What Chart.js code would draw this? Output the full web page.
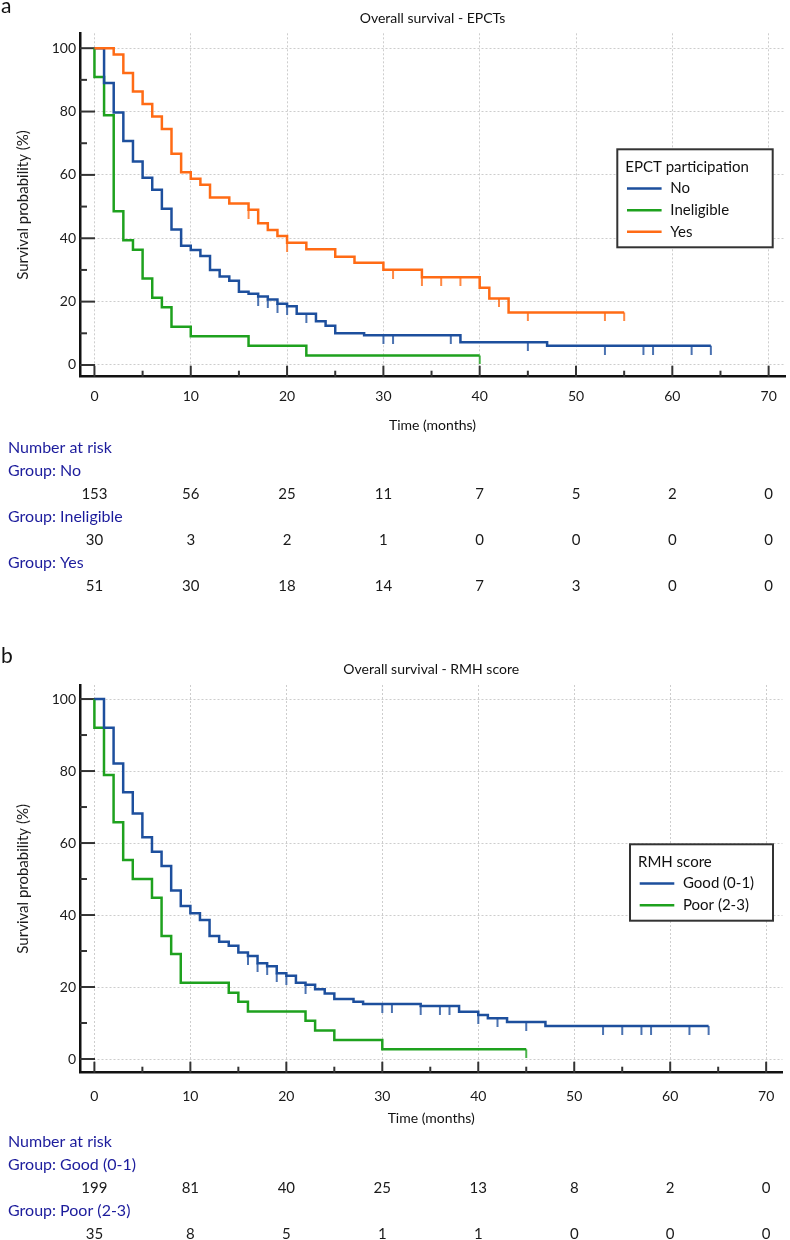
<!DOCTYPE html>
<html>
<head>
<meta charset="utf-8">
<script src="https://cdn.jsdelivr.net/npm/chart.js@4.4.0/dist/chart.umd.min.js"></script>
<style>
  html, body { margin: 0; padding: 0; background: #fff; }
  .panel { position: absolute; left: 0; width: 790px; height: 620px; }
</style>
</head>
<body>
<div class="panel" style="top:0"><canvas id="chartA" width="790" height="620"></canvas></div>
<div class="panel" style="top:620px"><canvas id="chartB" width="790" height="620"></canvas></div>
<script>
// ---- axis ticks ----
const xTickValues = [0, 10, 20, 30, 40, 50, 60, 70];
const xMinorValues = [5, 15, 25, 35, 45, 55, 65];
const yTickValues = [0, 20, 40, 60, 80, 100];
const yMinorValues = [10, 30, 50, 70, 90];

// ---- panel a: EPCT participation (time in months, survival in %) ----
const noTimes = [0, 1, 2, 3, 4, 5, 6, 7, 8, 9, 10, 11, 12, 13, 14, 15, 16, 17, 18, 19, 20, 21, 23, 24, 25, 28, 38, 47, 64];
const noSurv = [100, 89.0, 79.7, 70.7, 64.2, 59.1, 55.3, 49.3, 42.8, 37.6, 36.3, 34.4, 30.0, 27.9, 26.6, 23.1, 22.5, 21.6, 20.7, 19.3, 18.5, 16.2, 13.8, 12.4, 10.0, 9.4, 7.2, 6.1, 6.1];
const noCensor = [17, 18, 19, 20, 22, 30, 31, 37, 45, 53, 57, 58, 62, 64];

const inelTimes = [0, 0, 1, 2, 3, 4, 5, 6, 7, 8, 10, 16, 22, 40];
const inelSurv = [100, 90.9, 78.8, 48.5, 39.4, 36.4, 27.3, 21.2, 18.2, 12.1, 9.1, 6.1, 3.0, 3.0];
const inelCensor = [40];

const yesTimes = [0, 2, 3, 4, 5, 6, 7, 8, 9, 10, 11, 12, 14, 16, 17, 18, 19, 20, 22, 25, 27, 30, 34, 40, 41, 43, 55];
const yesSurv = [100, 98.0, 92.2, 86.3, 82.4, 78.4, 74.5, 66.7, 60.8, 58.8, 56.9, 52.9, 51.0, 49.0, 44.7, 42.6, 40.7, 38.6, 36.5, 34.2, 32.3, 30.1, 27.7, 24.4, 21.0, 16.6, 16.6];
const yesCensor = [16, 20, 31, 34, 36, 38, 42, 45, 53, 55];

// ---- panel b: RMH score ----
const goodTimes = [0, 1, 2, 3, 4, 5, 6, 7, 8, 9, 10, 11, 12, 13, 14, 15, 16, 17, 18, 19, 20, 21, 22, 23, 24, 25, 27, 28, 34, 38, 40, 41, 43, 47, 64];
const goodSurv = [100, 92.0, 82.1, 74.1, 68.2, 61.6, 57.6, 53.6, 46.8, 42.5, 40.5, 38.6, 34.2, 32.6, 31.5, 29.6, 28.6, 26.6, 25.8, 23.8, 23.1, 21.2, 20.6, 19.4, 18.2, 16.7, 15.9, 15.3, 14.7, 13.1, 12.2, 11.3, 10.3, 9.2, 9.2];
const goodCensor = [16, 17, 18, 19, 20, 22, 30, 31, 34, 36, 37, 40, 42, 45, 53, 55, 57, 58, 62, 64];

const poorTimes = [0, 0, 1, 2, 3, 4, 6, 7, 8, 9, 14, 15, 16, 22, 23, 25, 30, 45];
const poorSurv = [100, 92.0, 78.9, 65.8, 55.3, 50.0, 44.8, 34.2, 29.2, 21.2, 18.4, 15.9, 13.2, 10.6, 7.9, 5.3, 2.7, 2.7];
const poorCensor = [45];

// ---- number at risk ----
const riskTimes = [0, 10, 20, 30, 40, 50, 60, 70];
const riskNo = [153, 56, 25, 11, 7, 5, 2, 0];
const riskInel = [30, 3, 2, 1, 0, 0, 0, 0];
const riskYes = [51, 30, 18, 14, 7, 3, 0, 0];
const riskGood = [199, 81, 40, 25, 13, 8, 2, 0];
const riskPoor = [35, 8, 5, 1, 1, 0, 0, 0];

const BLUE = '#1d4f9d', GREEN = '#1ea11e', ORANGE = '#ff6b15';
const FONT = 'Lato, "Open Sans", sans-serif';

Chart.defaults.font.family = FONT;
Chart.defaults.color = '#1a1a1a';

function steps(times, surv) {
    return times.map((t, i) => ({ x: t, y: surv[i] }));
}

// survival level of the step curve at time t (used to hang the censor marks)
function survAt(times, surv, t) {
    let v = surv[0];
    for (let i = 0; i < times.length; i++) {
        if (times[i] <= t) v = surv[i];
    }
    return v;
}

// small vertical tick hanging below the point
function tickMark(color) {
    const c = document.createElement('canvas');
    c.width = 4; c.height = 18;
    const g = c.getContext('2d');
    g.strokeStyle = color;
    g.lineWidth = 1.6;
    g.beginPath(); g.moveTo(2, 9); g.lineTo(2, 18); g.stroke();
    return c;
}

function kmSets(label, times, surv, cens, color) {
    return [
        {
            label: label,
            data: steps(times, surv),
            borderColor: color,
            backgroundColor: color,
            borderWidth: 2.5,
            stepped: 'before',
            pointRadius: 0,
            fill: false,
            borderJoinStyle: 'miter',
            borderCapStyle: 'butt'
        },
        {
            label: label + ' censored',
            data: cens.map(t => ({ x: t, y: survAt(times, surv, t) })),
            showLine: false,
            pointStyle: tickMark(color),
            pointRadius: 3,
            borderColor: color,
            backgroundColor: color
        }
    ];
}

const grid = { color: '#cdcdcd', lineWidth: 1, drawTicks: false };
const border = { color: '#111', width: 2.5, dash: [2, 2] };

function makeScales(yMin, yMax, xHeight, labelPad) {
    return {
        x: {
            type: 'linear', min: -1.5, max: 71.7,
            afterBuildTicks: s => { s.ticks = xTickValues.map(v => ({ value: v })); },
            afterFit: s => { s.height = xHeight; },
            grid: grid, border: border,
            ticks: { padding: labelPad, font: { size: 14 }, color: '#1a1a1a', maxRotation: 0, autoSkip: false }
        },
        y: {
            type: 'linear', min: yMin, max: yMax,
            afterBuildTicks: s => { s.ticks = yTickValues.map(v => ({ value: v })); },
            afterFit: s => { s.width = 80; },
            grid: grid, border: border,
            ticks: { padding: 4, font: { size: 14 }, color: '#1a1a1a' },
            title: { display: true, text: 'Survival probability (%)', font: { size: 15 }, color: '#1a1a1a', padding: { top: 14, bottom: 0 } }
        }
    };
}

const kmDecor = {
    id: 'kmDecor',
    beforeDatasetsDraw(chart) {
        const { ctx, chartArea: a } = chart;
        const xs = chart.scales.x, ys = chart.scales.y;
        ctx.save();
        ctx.strokeStyle = '#333';
        ctx.lineWidth = 2;
        const seg = (x1, y1, x2, y2) => { ctx.beginPath(); ctx.moveTo(x1, y1); ctx.lineTo(x2, y2); ctx.stroke(); };
        yTickValues.forEach(v => { const p = ys.getPixelForValue(v); seg(a.left, p, a.left + 15, p); });
        yMinorValues.forEach(v => { const p = ys.getPixelForValue(v); seg(a.left, p, a.left + 7, p); });
        xTickValues.forEach(v => { const p = xs.getPixelForValue(v); seg(p, a.bottom, p, a.bottom - 11); });
        xMinorValues.forEach(v => { const p = xs.getPixelForValue(v); seg(p, a.bottom, p, a.bottom - 6); });
        ctx.restore();
    },
    afterDraw(chart, args, o) {
        const { ctx, chartArea: a } = chart;
        const xs = chart.scales.x;
        const cx = (a.left + a.right) / 2;
        ctx.save();

        // panel letter, title, x axis title
        ctx.fillStyle = '#111';
        ctx.textAlign = 'left';
        ctx.textBaseline = 'alphabetic';
        ctx.font = '21px ' + FONT;
        ctx.fillText(o.letter, 1, o.letterY);
        ctx.textAlign = 'center';
        ctx.textBaseline = 'middle';
        ctx.font = '14px ' + FONT;
        ctx.fillText(o.title, cx, o.titleY);
        ctx.fillText('Time (months)', cx, o.xTitleY);

        // legend box
        const L = o.legend;
        ctx.fillStyle = '#fff';
        ctx.fillRect(L.x, L.y, L.w, L.h);
        ctx.strokeStyle = '#333';
        ctx.lineWidth = 2;
        ctx.strokeRect(L.x, L.y, L.w, L.h);
        ctx.font = '15px ' + FONT;
        ctx.textAlign = 'left';
        ctx.fillStyle = '#111';
        ctx.fillText(L.title, L.x + 8, L.y + 17.7);
        L.items.forEach((it, i) => {
            const yy = L.y + 39.3 + i * 21.6;
            ctx.strokeStyle = it.color;
            ctx.lineWidth = 2.5;
            ctx.beginPath(); ctx.moveTo(L.x + 9.7, yy); ctx.lineTo(L.x + 44.3, yy); ctx.stroke();
            ctx.fillStyle = '#111';
            ctx.fillText(it.label, L.x + 53, yy);
        });

        // number at risk table
        ctx.textAlign = 'left';
        ctx.fillStyle = '#1c1c9c';
        ctx.font = '16px ' + FONT;
        ctx.fillText('Number at risk', 8, o.riskY);
        o.groups.forEach((g, i) => {
            const ly = o.riskY + 23 * (2 * i + 1);
            const ny = o.riskY + 23 * (2 * i + 2);
            ctx.textAlign = 'left';
            ctx.fillStyle = '#1c1c9c';
            ctx.font = '16px ' + FONT;
            ctx.fillText('Group: ' + g.name, 8, ly);
            ctx.textAlign = 'center';
            ctx.fillStyle = '#1a1a1a';
            ctx.font = '15px ' + FONT;
            riskTimes.forEach((t, j) => ctx.fillText(String(g.counts[j]), xs.getPixelForValue(t), ny));
        });
        ctx.restore();
    }
};

new Chart(document.getElementById('chartA'), {
    type: 'line',
    data: {
        datasets: [
            ...kmSets('Yes', yesTimes, yesSurv, yesCensor, ORANGE),
            ...kmSets('No', noTimes, noSurv, noCensor, BLUE),
            ...kmSets('Ineligible', inelTimes, inelSurv, inelCensor, GREEN)
        ]
    },
    options: {
        responsive: false,
        animation: false,
        layout: { padding: { top: 33.3, right: 1, left: 0, bottom: 0 } },
        scales: makeScales(-3.7, 104.7, 620 - 376.7, 11.6),
        plugins: {
            legend: { display: false },
            tooltip: { enabled: false },
            kmDecor: {
                letter: 'a', letterY: 13, title: 'Overall survival - EPCTs', titleY: 18.3, xTitleY: 425,
                legend: {
                    x: 617.3, y: 149.3, w: 155.4, h: 98, title: 'EPCT participation',
                    items: [{ label: 'No', color: BLUE }, { label: 'Ineligible', color: GREEN }, { label: 'Yes', color: ORANGE }]
                },
                riskY: 448.3,
                groups: [{ name: 'No', counts: riskNo }, { name: 'Ineligible', counts: riskInel }, { name: 'Yes', counts: riskYes }]
            }
        }
    },
    plugins: [kmDecor]
});

new Chart(document.getElementById('chartB'), {
    type: 'line',
    data: {
        datasets: [
            ...kmSets('Good (0-1)', goodTimes, goodSurv, goodCensor, BLUE),
            ...kmSets('Poor (2-3)', poorTimes, poorSurv, poorCensor, GREEN)
        ]
    },
    options: {
        responsive: false,
        animation: false,
        layout: { padding: { top: 65, right: 1, left: 0, bottom: 0 } },
        scales: makeScales(-3.8, 103.9, 620 - 452.7, 15.6),
        plugins: {
            legend: { display: false },
            tooltip: { enabled: false },
            kmDecor: {
                letter: 'b', letterY: 43, title: 'Overall survival - RMH score', titleY: 49, xTitleY: 498.3,
                legend: {
                    x: 630, y: 224.3, w: 143, h: 76.4, title: 'RMH score',
                    items: [{ label: 'Good (0-1)', color: BLUE }, { label: 'Poor (2-3)', color: GREEN }]
                },
                riskY: 521.7,
                groups: [{ name: 'Good (0-1)', counts: riskGood }, { name: 'Poor (2-3)', counts: riskPoor }]
            }
        }
    },
    plugins: [kmDecor]
});
</script>
</body>
</html>
